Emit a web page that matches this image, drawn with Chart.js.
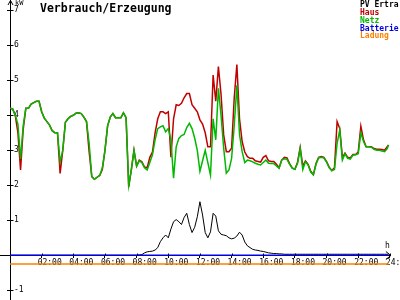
<!DOCTYPE html>
<html><head><meta charset="utf-8">
<script src="https://cdn.jsdelivr.net/npm/chart.js@4/dist/chart.umd.min.js"></script>
<style>
html,body{margin:0;padding:0;background:#fff;}
#wrap{position:relative;width:400px;height:300px;overflow:hidden;background:#fff;}
canvas{position:absolute;left:0;top:0;}
.t{position:absolute;font-family:"DejaVu Sans Mono",monospace;white-space:pre;color:#000;}
#title{left:40px;top:1.5px;font-size:11.5px;font-weight:bold;line-height:12px;}
#legend{left:360px;top:1.4px;font-size:8px;line-height:7.7px;font-weight:bold;}
#ylab{left:15px;top:-1px;font-size:7px;line-height:8px;}
#xlab{left:385px;top:242px;font-size:8px;line-height:8px;}
</style></head><body>
<div id="wrap"><canvas id="c" width="400" height="300"></canvas>
<div class="t" id="title">Verbrauch/Erzeugung</div>
<div class="t" id="legend"></div>
<div class="t" id="ylab">kW</div>
<div class="t" id="xlab">h</div>
</div>
<script>
// ---- categories (time of day) ----
const times = [
'00:00','00:10','00:20','00:30','00:40','00:50','01:00','01:10','01:20','01:30','01:40','01:50',
'02:00','02:10','02:20','02:30','02:40','02:50','03:00','03:10','03:20','03:30','03:40','03:50',
'04:00','04:10','04:20','04:30','04:40','04:50','05:00','05:10','05:20','05:30','05:40','05:50',
'06:00','06:10','06:20','06:30','06:40','06:50','07:00','07:10','07:20','07:30','07:40','07:50',
'08:00','08:10','08:20','08:30','08:40','08:50','09:00','09:10','09:20','09:30','09:40','09:50',
'10:00','10:10','10:20','10:30','10:40','10:50','11:00','11:10','11:20','11:30','11:40','11:50',
'12:00','12:10','12:20','12:30','12:40','12:50','13:00','13:10','13:20','13:30','13:40','13:50',
'14:00','14:10','14:20','14:30','14:40','14:50','15:00','15:10','15:20','15:30','15:40','15:50',
'16:00','16:10','16:20','16:30','16:40','16:50','17:00','17:10','17:20','17:30','17:40','17:50',
'18:00','18:10','18:20','18:30','18:40','18:50','19:00','19:10','19:20','19:30','19:40','19:50',
'20:00','20:10','20:20','20:30','20:40','20:50','21:00','21:10','21:20','21:30','21:40','21:50',
'22:00','22:10','22:20','22:30','22:40','22:50','23:00','23:10','23:20','23:30','23:40','23:50',
'23:55'];

// ---- series (kW) ----
const pvErtrag = [
0,0,0,0,0,0,0,0,0,0,0,0,
0,0,0,0,0,0,0,0,0,0,0,0,
0,0,0,0,0,0,0,0,0,0,0,0,
0,0,0,0,0,0,0,0,0,0,0,0,
0,0.01,0.02,0.07,0.1,0.11,0.12,0.15,0.22,0.39,0.5,0.58,
0.5,0.75,0.96,1.02,0.96,0.88,1.08,1.2,0.88,0.65,0.8,1.1,
1.53,1.15,0.65,0.5,0.67,1.2,1.12,0.7,0.6,0.58,0.56,0.5,
0.47,0.49,0.55,0.66,0.58,0.38,0.27,0.22,0.17,0.15,0.14,0.12,
0.11,0.09,0.07,0.06,0.05,0.05,0.04,0.04,0.03,0.03,0.03,0.03,
0.03,0.03,0.03,0.03,0.03,0.03,0.03,0.03,0.03,0.03,0.03,0.03,
0.03,0.03,0.03,0.03,0.03,0.03,0.03,0.03,0.03,0.03,0.03,0.03,
0.03,0.03,0.03,0.03,0.03,0.03,0.03,0.03,0.03,0.03,0.03,0.03,
0.03];
const haus = [
4.2,4.18,4.0,3.5,2.44,3.6,4.2,4.2,4.32,4.36,4.4,4.4,
4.1,3.92,3.82,3.72,3.56,3.5,3.5,2.34,3.0,3.8,3.9,3.97,
4.0,4.06,4.07,4.05,3.95,3.82,2.96,2.25,2.17,2.23,2.28,2.45,
3.0,3.7,3.95,4.05,3.93,3.93,3.93,4.07,3.93,1.95,2.45,3.0,
2.55,2.72,2.67,2.52,2.5,2.8,2.95,3.5,3.9,4.1,4.1,4.05,
4.1,2.8,3.9,4.3,4.28,4.34,4.5,4.62,4.62,4.3,4.2,4.1,
3.87,3.75,3.5,3.1,3.1,5.15,4.4,5.39,4.6,3.44,2.96,2.96,
3.06,4.5,5.45,3.9,3.25,2.95,2.82,2.77,2.77,2.7,2.68,2.66,
2.8,2.85,2.7,2.68,2.68,2.6,2.5,2.72,2.8,2.78,2.62,2.49,
2.46,2.66,3.08,2.55,2.7,2.6,2.4,2.3,2.62,2.8,2.82,2.8,
2.68,2.52,2.42,2.5,3.82,3.62,2.8,2.92,2.8,2.78,2.88,2.88,
2.95,3.69,3.3,3.1,3.1,3.1,3.05,3.03,3.03,3.02,3.0,3.1,
3.15];
const netz = [
4.2,4.18,4.0,3.75,2.75,3.7,4.2,4.2,4.32,4.36,4.4,4.4,
4.1,3.92,3.82,3.72,3.56,3.5,3.5,2.67,3.0,3.8,3.9,3.97,
4.0,4.06,4.07,4.05,3.95,3.82,3.2,2.25,2.17,2.23,2.28,2.5,
3.0,3.7,3.95,4.05,3.93,3.93,3.93,4.07,3.93,2.0,2.45,3.0,
2.55,2.7,2.65,2.5,2.44,2.65,2.87,3.3,3.62,3.67,3.7,3.53,
3.62,3.3,2.2,3.1,3.34,3.42,3.45,3.65,3.77,3.62,3.35,3.0,
2.4,2.7,3.0,2.65,2.29,3.9,3.3,4.77,4.0,3.06,2.35,2.44,
2.77,3.7,4.86,3.45,2.96,2.65,2.72,2.7,2.67,2.63,2.6,2.58,
2.65,2.72,2.63,2.62,2.62,2.55,2.49,2.72,2.76,2.74,2.6,2.49,
2.46,2.63,3.05,2.45,2.68,2.58,2.38,2.3,2.6,2.78,2.8,2.78,
2.66,2.5,2.42,2.45,3.2,3.58,2.72,2.9,2.77,2.75,2.86,2.87,
2.9,3.5,3.25,3.1,3.1,3.09,3.03,3.0,3.0,2.98,2.96,3.05,
3.15];
const batterie = [
0,0,0,0,0,0,0,0,0,0,0,0, 0,0,0,0,0,0,0,0,0,0,0,0,
0,0,0,0,0,0,0,0,0,0,0,0, 0,0,0,0,0,0,0,0,0,0,0,0,
0,0,0,0,0,0,0,0,0,0,0,0, 0,0,0,0,0,0,0,0,0,0,0,0,
0,0,0,0,0,0,0,0,0,0,0,0, 0,0,0,0,0,0,0,0,0,0,0,0,
0,0,0,0,0,0,0,0,0,0,0,0, 0,0,0,0,0,0,0,0,0,0,0,0,
0,0,0,0,0,0,0,0,0,0,0,0, 0,0,0,0,0,0,0,0,0,0,0,0,
0];
const ladung = [
-0.25,-0.25,-0.25,-0.25,-0.25,-0.25,-0.25,-0.25,-0.25,-0.25,-0.25,-0.25,
-0.25,-0.25,-0.25,-0.25,-0.25,-0.25,-0.25,-0.25,-0.25,-0.25,-0.25,-0.25,
-0.25,-0.25,-0.25,-0.25,-0.25,-0.25,-0.25,-0.25,-0.25,-0.25,-0.25,-0.25,
-0.25,-0.25,-0.25,-0.25,-0.25,-0.25,-0.25,-0.25,-0.25,-0.25,-0.25,-0.25,
-0.25,-0.25,-0.25,-0.25,-0.25,-0.25,-0.25,-0.25,-0.25,-0.25,-0.25,-0.25,
-0.25,-0.25,-0.25,-0.25,-0.25,-0.25,-0.25,-0.25,-0.25,-0.25,-0.25,-0.25,
-0.25,-0.25,-0.25,-0.25,-0.25,-0.25,-0.25,-0.25,-0.25,-0.25,-0.25,-0.25,
-0.25,-0.25,-0.25,-0.25,-0.25,-0.25,-0.25,-0.25,-0.25,-0.25,-0.25,-0.25,
-0.25,-0.25,-0.25,-0.25,-0.25,-0.25,-0.25,-0.25,-0.25,-0.25,-0.25,-0.25,
-0.25,-0.25,-0.25,-0.25,-0.25,-0.25,-0.25,-0.25,-0.25,-0.25,-0.25,-0.25,
-0.25,-0.25,-0.25,-0.25,-0.25,-0.25,-0.25,-0.25,-0.25,-0.25,-0.25,-0.25,
-0.25,-0.25,-0.25,-0.25,-0.25,-0.25,-0.25,-0.25,-0.25,-0.25,-0.25,-0.25,
-0.25];

// ---- tick labels ----
const xTickLabels = ['02:00','04:00','06:00','08:00','10:00','12:00','14:00','16:00','18:00','20:00','22:00','24:00'];
const yTickValues = [-1,1,2,3,4,5,6,7];
const seriesNames = ['PV Ertra','Haus','Netz','Batterie','Ladung'];
const seriesColors = ['#000000','#c00000','#00b800','#0000e0','#ff8000'];

const toHours = s => parseInt(s.slice(0,2),10) + parseInt(s.slice(3,5),10)/60;
const hrs = times.map(toHours);
const pts = arr => arr.map((v,i) => ({x: hrs[i], y: v}));

// legend text
document.getElementById('legend').innerHTML = seriesNames.map((n,i) =>
  '<div style="color:'+seriesColors[i]+'">'+n+'</div>').join('');

const axisPlugin = {
  id: 'axesDeco',
  beforeDatasetsDraw(chart) {
    const {ctx} = chart, xs = chart.scales.x, ys = chart.scales.y;
    const y0 = Math.round(ys.getPixelForValue(0)) + 0.5;
    const xEnd = xs.getPixelForValue(24) + 1;
    ctx.save();
    ctx.strokeStyle = '#000'; ctx.lineWidth = 1;
    ctx.beginPath(); ctx.moveTo(0, y0); ctx.lineTo(xEnd, y0); ctx.stroke();
    ctx.restore();
  },
  afterDraw(chart) {
    const {ctx} = chart, xs = chart.scales.x, ys = chart.scales.y;
    const y0 = Math.round(ys.getPixelForValue(0)) + 0.5;
    const xEnd = xs.getPixelForValue(24) + 1;
    const ax = Math.round(xs.getPixelForValue(0)) + 0.5;
    ctx.save();
    ctx.strokeStyle = '#000'; ctx.lineWidth = 1;
    ctx.beginPath();
    ctx.moveTo(xEnd - 5, y0 - 4); ctx.lineTo(xEnd, y0); ctx.lineTo(xEnd - 5, y0 + 4);
    ctx.moveTo(ax - 2.5, 5); ctx.lineTo(ax, 0.5); ctx.lineTo(ax + 2.5, 5);
    ctx.stroke();
    // ticks crossing the axes
    ctx.beginPath();
    yTickValues.forEach(v => { const p = Math.round(ys.getPixelForValue(v)) + 0.5; ctx.moveTo(ax, p); ctx.lineTo(ax + 3, p); });
    xTickLabels.forEach(l => { const p = Math.round(xs.getPixelForValue(toHours(l))) + 0.5; ctx.moveTo(p, y0); ctx.lineTo(p, y0 - 2); });
    ctx.stroke();
    ctx.restore();
  }
};

const tickFont = {family: 'DejaVu Sans Mono', size: 8};
new Chart(document.getElementById('c'), {
  type: 'line',
  data: {
    datasets: [
      {label: seriesNames[3], data: pts(batterie), borderColor: seriesColors[3], borderWidth: 1.6, order: 0},
      {label: seriesNames[4], data: pts(ladung), borderColor: seriesColors[4], borderWidth: 1.6, order: 1},
      {label: seriesNames[2], data: pts(netz), borderColor: seriesColors[2], borderWidth: 1.5, order: 2},
      {label: seriesNames[1], data: pts(haus), borderColor: seriesColors[1], borderWidth: 1.5, order: 3},
      {label: seriesNames[0], data: pts(pvErtrag), borderColor: seriesColors[0], borderWidth: 1, order: 4}
    ]
  },
  options: {
    responsive: false, animation: false, events: [],
    layout: {padding: 0},
    plugins: {legend: {display: false}, title: {display: false}, tooltip: {enabled: false}},
    elements: {point: {radius: 0}, line: {tension: 0, fill: false}},
    scales: {
      x: {
        type: 'linear', min: 0, max: 24.64, position: {y: 0},
        afterFit(s) { s.paddingLeft = 0; s.paddingRight = 0; },
        afterBuildTicks(s) { s.ticks = xTickLabels.map(l => ({value: toHours(l)})); },
        ticks: {autoSkip: false, maxRotation: 0, minRotation: 0, align: 'start', labelOffset: -4, padding: 0,
          color: '#000', font: tickFont, callback: (v, i) => xTickLabels[i]},
        grid: {drawOnChartArea: false, tickLength: 3, color: '#000'},
        border: {display: false}
      },
      y: {
        type: 'linear', position: 'left', min: -1.277, max: 7.294,
        afterFit(s) { s.width = 10; s.paddingTop = 0; s.paddingBottom = 0; },
        afterBuildTicks(s) { s.ticks = yTickValues.map(v => ({value: v})); },
        ticks: {mirror: true, padding: 4, color: '#000', font: tickFont, callback: v => String(v)},
        grid: {drawOnChartArea: false, tickLength: 3, color: '#000'},
        border: {display: true, color: '#000', width: 1}
      }
    }
  },
  plugins: [axisPlugin]
});
</script>
</body></html>
